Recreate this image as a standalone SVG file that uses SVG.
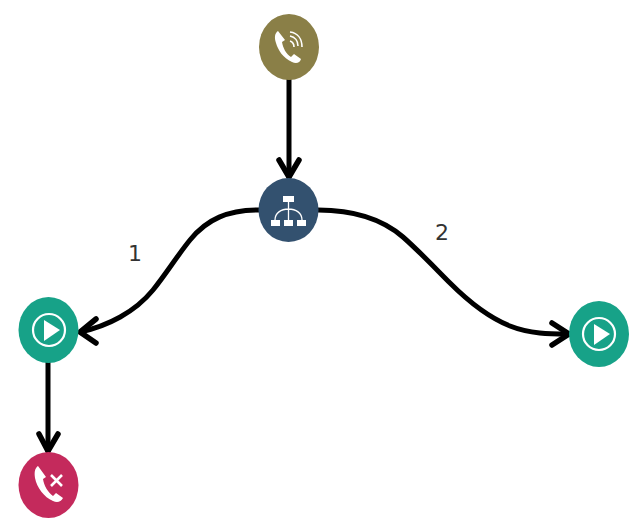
<svg xmlns="http://www.w3.org/2000/svg" width="641" height="520" viewBox="0 0 641 520">
<style>
.c{fill:none;stroke:#000;stroke-width:5}
.a{fill:none;stroke:#000;stroke-width:5.5;stroke-linecap:round;stroke-linejoin:miter}
.w{fill:#fff}
.wl{fill:none;stroke:#fff}
.t{font-family:"DejaVu Sans","Liberation Sans",sans-serif;font-size:22px;fill:#333}
</style>
<rect width="641" height="520" fill="#fff"/>
<g id="connectors">
<path class="c" d="M289 78V178"/>
<path class="a" d="M279 160L289 177L299 160"/>
<path class="c" d="M259 210C228 210 207 219 190 240C177 256 166 274 153 290C135 312 108 326 80 332"/>
<path class="a" d="M96 319L80 332L96 343"/>
<path class="c" d="M318 210C352 210 381 218 403 237C420 252 435 268 450 283C471 304 490 318 510 326C530 334 550 334 568 334"/>
<path class="a" d="M552 323L569 334L552 345"/>
<path class="c" d="M48 362V452"/>
<path class="a" d="M39 434L48 451L58 434"/>
</g>
<g id="node-call">
<ellipse cx="289" cy="47" rx="30" ry="33" fill="#8a7f47"/>
<path class="w" d="M278 31C275 33 274 37 276 43C278 50 283 58 292 62C296 64 300 63 301 59L294 54L291 57C286 54 283 48 282 42L285 40Z"/>
<path class="wl" stroke-width="1.6" d="M290 36C295 37 298 41 298 46M290 41C293 42 294 44 294 47M290 32C298 33 302 39 302 47"/>
</g>
<g id="node-router">
<ellipse cx="288.5" cy="210" rx="30" ry="32" fill="#33516f"/>
<rect class="w" x="283" y="196" width="11" height="6"/>
<rect class="w" x="271" y="220" width="9" height="6"/>
<rect class="w" x="284" y="220" width="9" height="6"/>
<rect class="w" x="297" y="220" width="9" height="6"/>
<path class="wl" stroke-width="1.3" d="M288.5 202V220M275 220C275 213 281 209 288.5 209C296 209 302 213 302 220"/>
</g>
<g id="node-play-left">
<ellipse cx="48.5" cy="330" rx="30" ry="33" fill="#17a288"/>
<circle class="wl" cx="49" cy="330" r="16" stroke-width="2.2" fill="#2b8f7e"/>
<path class="w" d="M44 320L60 330L44 341Z"/>
</g>
<g id="node-play-right">
<ellipse cx="599" cy="334" rx="30" ry="33" fill="#17a288"/>
<circle class="wl" cx="599" cy="334" r="16" stroke-width="2.2" fill="#2b8f7e"/>
<path class="w" d="M594 324L610 334L594 345Z"/>
</g>
<g id="node-hangup">
<ellipse cx="48.5" cy="485" rx="30" ry="33" fill="#c42a5c"/>
<path class="w" d="M38 466C35 468 34 472 35 478C37 488 44 497 53 501C57 503 61 502 63 498L56 493L53 496C48 492 44 486 43 479L46 477Z"/>
<path class="wl" stroke-width="2.6" d="M51 475L62 486M62 475L51 486"/>
</g>
<text class="t" x="128" y="261">1</text>
<text class="t" x="435" y="240">2</text>
</svg>
